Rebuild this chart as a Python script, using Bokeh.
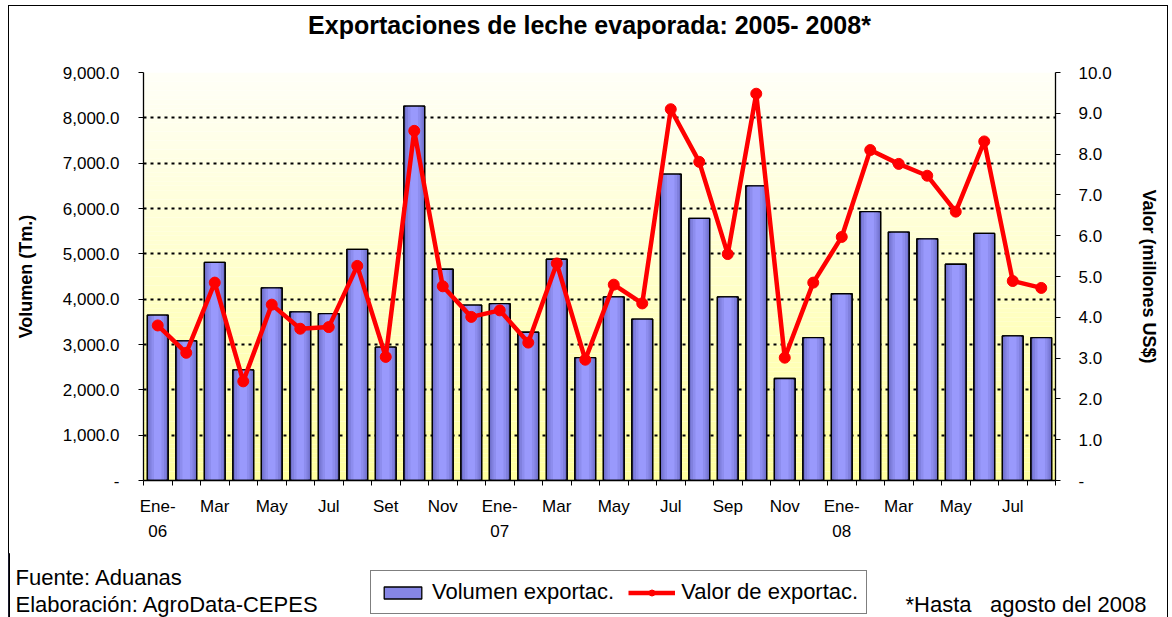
import numpy as np
from bokeh.plotting import figure
from bokeh.layouts import column
from bokeh.models import (Range1d, LinearAxis, FixedTicker, NumeralTickFormatter,
                          Legend, LegendItem, Label, ColumnDataSource)
from bokeh.embed import file_html
from bokeh.resources import INLINE

# ---------------- data ----------------
months = ["Ene-06", "Feb-06", "Mar-06", "Abr-06", "May-06", "Jun-06", "Jul-06", "Ago-06",
          "Set-06", "Oct-06", "Nov-06", "Dic-06",
          "Ene-07", "Feb-07", "Mar-07", "Abr-07", "May-07", "Jun-07", "Jul-07", "Ago-07",
          "Sep-07", "Oct-07", "Nov-07", "Dic-07",
          "Ene-08", "Feb-08", "Mar-08", "Abr-08", "May-08", "Jun-08", "Jul-08", "Ago-08"]
volumen = [3650, 3080, 4810, 2440, 4250, 3720, 3680, 5100, 2940, 8260, 4660, 3870,
           3900, 3270, 4880, 2710, 4050, 3560, 6760, 5780, 4050, 6500, 2250, 3150,
           4120, 5930, 5480, 5330, 4770, 5450, 3190, 3150]
valor = [3.80, 3.13, 4.85, 2.43, 4.31, 3.72, 3.76, 5.26, 3.03, 8.57, 4.76, 4.01,
         4.17, 3.38, 5.32, 2.96, 4.80, 4.34, 9.10, 7.81, 5.55, 9.48, 3.01, 4.85,
         5.97, 8.10, 7.76, 7.47, 6.59, 8.31, 4.89, 4.72]
tick_pos = [1, 3, 5, 7, 9, 11, 13, 15, 17, 19, 21, 23, 25, 27, 29, 31]
tick_text = ["Ene-\n06", "Mar", "May", "Jul", "Set", "Nov", "Ene-\n07", "Mar", "May",
             "Jul", "Sep", "Nov", "Ene-\n08", "Mar", "May", "Jul"]
left_ticks = [0, 1000, 2000, 3000, 4000, 5000, 6000, 7000, 8000, 9000]
right_ticks = [0, 1, 2, 3, 4, 5, 6, 7, 8, 9, 10]

title_text = "Exportaciones de leche evaporada: 2005- 2008*"
source_text = "Fuente: Aduanas"
credit_text = "Elaboración: AgroData-CEPES"
note_text = "*Hasta\u00a0\u00a0 agosto del 2008"   # wide gap kept with no-break spaces
series_names = ["Volumen exportac.", "Valor de exportac."]

FONT = "Liberation Sans"
BAR_LINE = "black"
RED = "#ff0000"

x = list(range(1, len(months) + 1))
src = ColumnDataSource(dict(x=x, mes=months, volumen=volumen, valor=valor))

W = 1160
H0, H1, H2 = 45, 503, 64          # header, chart, footer heights


def blank(h, xr=(0, W)):
    f = figure(width=W, height=h, x_range=Range1d(*xr), y_range=Range1d(0, h),
               x_axis_location=None, y_axis_location=None, min_border=0,
               output_backend="svg", toolbar_location=None)
    f.frame_align = False
    f.outline_line_color = None
    f.grid.visible = False
    f.background_fill_alpha = 0
    f.border_fill_alpha = 0
    return f


# ---------------- header (title) ----------------
head = blank(H0)
head.add_layout(Label(x=581, y=H0 - 19.5, x_units="screen", y_units="screen", text=title_text,
                      text_font=FONT, text_font_size="25px", text_font_style="bold",
                      text_align="center", text_baseline="middle", text_color="black"))

# ---------------- main chart ----------------
p = figure(width=W, height=H1, x_range=Range1d(0.5, len(months) + 0.5),
           y_range=Range1d(0, 9000), output_backend="svg", toolbar_location=None,
           min_border_left=135, min_border_right=113, min_border_top=22,
           min_border_bottom=73)
p.frame_align = False
p.extra_y_ranges = {"valor": Range1d(0, 10)}
p.outline_line_color = None
p.background_fill_color = "white"
p.border_fill_alpha = 0

# background gradient (near white top -> pale yellow bottom)
n = 90
edges = np.linspace(0, 9000, n + 1)
top_c = np.array([255, 255, 248])
bot_c = np.array([255, 255, 156])
cols = []
for i in range(n):
    t = (edges[i] + edges[i + 1]) / 2 / 9000
    c = bot_c + (top_c - bot_c) * t
    cols.append("#%02x%02x%02x" % tuple(int(round(v)) for v in c))
bg = p.quad(left=0.5, right=len(months) + 0.5, bottom=edges[:-1], top=edges[1:],
            fill_color=cols, line_color=None)
bg.level = "image"

# grid
p.xgrid.visible = False
p.ygrid.ticker = FixedTicker(ticks=left_ticks[1:])
p.ygrid.grid_line_color = "black"
p.ygrid.grid_line_width = 2
p.ygrid.grid_line_dash = "3 4"

# bars with shading (dark edges, light centre)
bw = 0.73
bars = p.vbar(x="x", top="volumen", width=bw, source=src, fill_color="#7070cc",
              line_color=BAR_LINE, line_width=1.3)
for frac, col in [(0.8, "#8080de"), (0.6, "#8d8dee"), (0.36, "#9999fc")]:
    p.vbar(x="x", top="volumen", width=bw * frac, source=src, fill_color=col, line_color=None)
p.vbar(x="x", top="volumen", width=bw, source=src, fill_alpha=0,
       line_color=BAR_LINE, line_width=1.3)

# line
ln = p.line(x="x", y="valor", source=src, y_range_name="valor", line_color=RED,
            line_width=4.5)
pts = p.scatter(x="x", y="valor", source=src, y_range_name="valor", size=11,
                fill_color=RED, line_color=RED)

# axes
ax = p.xaxis[0]
ax.ticker = FixedTicker(ticks=tick_pos, minor_ticks=[i + 0.5 for i in range(len(months) + 1)])
ax.major_label_overrides = {t: s for t, s in zip(tick_pos, tick_text)}
ax.major_tick_in = 0
ax.major_tick_out = 0
ax.minor_tick_in = 0
ax.minor_tick_out = 5
ax.minor_tick_line_color = "black"
ax.axis_line_color = "black"
ax.axis_line_width = 1.3
ax.major_label_text_font = FONT
ax.major_label_text_font_size = "17px"
ax.major_label_text_color = "black"
ax.major_label_text_line_height = 1.35
ax.major_label_standoff = 11

ly = p.yaxis[0]
ly.ticker = FixedTicker(ticks=left_ticks)
ly.formatter = NumeralTickFormatter(format="0,0.0")
ly.major_label_overrides = {0: "-"}
ly.axis_label = "Volumen (Tm.)"

ry = LinearAxis(y_range_name="valor", ticker=FixedTicker(ticks=right_ticks),
                formatter=NumeralTickFormatter(format="0.0"),
                major_label_overrides={0: "-"}, axis_label="Valor (millones US$)")
p.add_layout(ry, "right")

for a in (ly, ry):
    a.minor_tick_line_color = None
    a.major_tick_in = 0
    a.major_tick_out = 5
    a.major_tick_line_color = "black"
    a.axis_line_color = "black"
    a.axis_line_width = 1.3
    a.major_label_text_font = FONT
    a.major_label_text_font_size = "17px"
    a.major_label_text_color = "black"
    a.axis_label_text_font = FONT
    a.axis_label_text_font_size = "18px"
    a.axis_label_text_font_style = "bold"
    a.axis_label_text_color = "black"
ly.major_label_standoff = 19
ly.axis_label_standoff = 24
ry.major_label_standoff = 18
ry.axis_label_standoff = 24

# ---------------- footer (legend + notes) ----------------
# footer renderers carry the same data but sit outside the footer's visible x range;
# they only provide the legend swatches
foot = blank(H2, xr=(1000, 1000 + W))
lb = foot.vbar(x="x", top="volumen", width=bw, source=src, fill_color="#8686e6",
               line_color=BAR_LINE, line_width=1.3)
ll = foot.line(x="x", y="valor", source=src, line_color=RED, line_width=4.5)
lp = foot.scatter(x="x", y="valor", source=src, size=11, fill_color=RED, line_color=RED)
legend = Legend(items=[LegendItem(label=series_names[0], renderers=[lb]),
                       LegendItem(label=series_names[1], renderers=[ll, lp])],
                orientation="horizontal", location=(362, 3),
                border_line_color="black", border_line_width=1,
                label_text_font=FONT, label_text_font_size="22px",
                label_text_color="black",
                glyph_width=47, glyph_height=15, spacing=14, padding=8, margin=0,
                label_standoff=6, background_fill_color="white")
foot.add_layout(legend, "center")


def note(xp, yp, text, **kw):
    foot.add_layout(Label(x=xp, y=yp, x_units="screen", y_units="screen", text=text,
                          text_font=FONT, text_font_size="22px", text_color="black",
                          text_baseline="middle", **kw))


note(7, 40.5, source_text)
note(7, 13, credit_text)
note(1138, 13, note_text, text_align="right")

layout = column(head, p, foot, spacing=0,
                styles={"margin": "5px 0px 0px 8px",
                        "box-shadow": "inset 1px 1px 0px 0px #000000, inset -1px 0px 0px 0px #000000"})

open("out.html", "w").write(file_html(layout, INLINE))
